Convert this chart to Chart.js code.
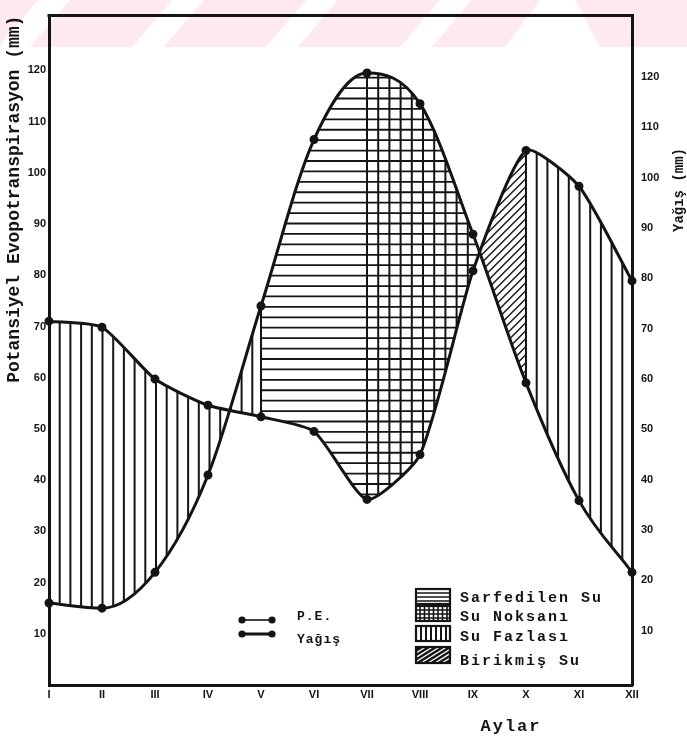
<!DOCTYPE html>
<html>
<head>
<meta charset="utf-8">
<script src="https://cdn.jsdelivr.net/npm/chart.js@4.4.0/dist/chart.umd.min.js"></script>
<style>
html,body{margin:0;padding:0;background:#fff;}
#wrap{width:687px;height:736px;position:relative;}
</style>
</head>
<body>
<div id="wrap"><canvas id="c" width="687" height="736"></canvas></div>
<script>
// ---- data ----
const months = ['I','II','III','IV','V','VI','VII','VIII','IX','X','XI','XII'];
const peValues = [16, 15, 22, 41, 74, 106.5, 119.5, 113.5, 88, 59, 36, 22];          // left axis (mm)
const yagisValues = [71.5, 70.3, 60, 54.8, 52.5, 49.6, 36.1, 45, 81.5, 105.4, 98.3, 79.5]; // right axis (mm)
const leftTicks = [10, 20, 30, 40, 50, 60, 70, 80, 90, 100, 110, 120];
const rightTicks = [10, 20, 30, 40, 50, 60, 70, 80, 90, 100, 110, 120];
const seriesLabels = ['P.E.', 'Yağış'];
const regionLabels = ['Sarfedilen Su', 'Su Noksanı', 'Su Fazlası', 'Birikmiş Su'];
const leftTitle = 'Potansiyel Evopotranspirasyon (mm)';
const rightTitle = 'Yağış (mm)';
const xTitle = 'Aylar';

// ---- style ----
const ink = '#141414';
const mono = '"Liberation Mono", "DejaVu Sans Mono", monospace';
const sans = '"Liberation Sans", Arial, sans-serif';

function drawHatch(ctx, kind, x0, x1, top, bottom) {
  ctx.strokeStyle = ink;
  ctx.lineCap = 'butt';
  if (kind === 'v' || kind === 'g') {
    ctx.lineWidth = 2;
    const step = kind === 'g' ? 11.2 : 10.7;
    for (let px = x0; px <= x1 + 0.5; px += step) {
      ctx.beginPath(); ctx.moveTo(px, top); ctx.lineTo(px, bottom); ctx.stroke();
    }
  }
  if (kind === 'h' || kind === 'g') {
    ctx.lineWidth = 1.8;
    for (let py = bottom - 3; py >= top; py -= 10.42) {
      ctx.beginPath(); ctx.moveTo(x0 - 2, py); ctx.lineTo(x1 + 2, py); ctx.stroke();
    }
  }
  if (kind === 'h') {
    ctx.lineWidth = 2;
    ctx.beginPath(); ctx.moveTo(x0, top); ctx.lineTo(x0, bottom); ctx.stroke();
  }
  if (kind === 'd') {
    ctx.lineWidth = 1.4;
    const H = bottom - top;
    for (let c = x0 - H; c <= x1 + 2; c += 8) {
      ctx.beginPath(); ctx.moveTo(c, bottom); ctx.lineTo(c + H, top); ctx.stroke();
    }
  }
}

const waterBalance = {
  id: 'waterBalance',
  beforeDraw(chart) {
    const {ctx, width, height} = chart;
    ctx.save();
    ctx.fillStyle = '#ffffff';
    ctx.fillRect(0, 0, width, height);
    // faint watermark band of the scanned page
    ctx.fillStyle = '#fde9ee';
    ctx.fillRect(0, 0, width, 47);
    ctx.fillStyle = '#ffffff';
    for (const b of [-2, 132, 266, 400]) {
      ctx.beginPath();
      ctx.moveTo(b, 47); ctx.lineTo(b + 32, 47); ctx.lineTo(b + 72, 0); ctx.lineTo(b + 40, 0);
      ctx.closePath(); ctx.fill();
    }
    ctx.beginPath();
    ctx.moveTo(505, 47); ctx.lineTo(600, 47); ctx.lineTo(575, 0); ctx.lineTo(540, 0);
    ctx.closePath(); ctx.fill();
    ctx.restore();
  },
  beforeDatasetsDraw(chart) {
    const {ctx, chartArea: ca, scales: {x}} = chart;
    const pe = chart.getDatasetMeta(0).dataset;
    const yg = chart.getDatasetMeta(1).dataset;
    const X = i => x.getPixelForValue(i);
    const under = line => {
      ctx.beginPath(); line.path(ctx);
      ctx.lineTo(ca.right + 5, ca.bottom + 5); ctx.lineTo(ca.left - 5, ca.bottom + 5); ctx.closePath();
    };
    const over = line => {
      ctx.beginPath(); line.path(ctx);
      ctx.lineTo(ca.right + 5, ca.top - 5); ctx.lineTo(ca.left - 5, ca.top - 5); ctx.closePath();
    };
    const region = (which, a, b, kind) => {
      ctx.save();
      ctx.beginPath();
      ctx.rect(X(a) - 1, ca.top, X(b) - X(a) + 2, ca.bottom - ca.top);
      ctx.clip();
      if (which === 'surplus') { under(yg); ctx.clip(); over(pe); ctx.clip(); }
      else { under(pe); ctx.clip(); over(yg); ctx.clip(); }
      drawHatch(ctx, kind, X(a), X(b), ca.top, ca.bottom);
      ctx.restore();
    };
    region('surplus', 0, 4, 'v');
    region('deficit', 0, 4, 'v');
    region('deficit', 4, 6, 'h');
    region('deficit', 6, 9, 'g');
    region('surplus', 8, 9, 'd');
    region('surplus', 9, 11, 'v');
  },
  afterDraw(chart) {
    const {ctx, chartArea: ca} = chart;
    ctx.save();
    // top frame line
    ctx.strokeStyle = ink; ctx.lineWidth = 3;
    ctx.beginPath(); ctx.moveTo(ca.left - 1.5, ca.top); ctx.lineTo(ca.right + 1.5, ca.top); ctx.stroke();

    // right axis title (reads bottom to top)
    ctx.fillStyle = ink;
    ctx.font = 'bold 14px ' + mono;
    ctx.textAlign = 'center'; ctx.textBaseline = 'middle';
    ctx.save();
    ctx.translate(679, 190); ctx.rotate(-Math.PI / 2);
    ctx.fillText(rightTitle, 0, 0);
    ctx.restore();

    // x axis title
    ctx.font = 'bold 17px ' + mono;
    try { ctx.letterSpacing = '2px'; } catch (e) {}
    ctx.fillText(xTitle, 511, 727);

    // line legend
    const lineY = [620, 634], textY = [617, 640], widths = [1.6, 3];
    chart.data.datasets.forEach((ds, i) => {
      ctx.strokeStyle = ink; ctx.fillStyle = ink; ctx.lineWidth = widths[i];
      ctx.beginPath(); ctx.moveTo(242, lineY[i]); ctx.lineTo(272, lineY[i]); ctx.stroke();
      for (const cx of [242, 272]) { ctx.beginPath(); ctx.arc(cx, lineY[i], 3.6, 0, Math.PI * 2); ctx.fill(); }
      ctx.font = 'bold 13px ' + mono;
      try { ctx.letterSpacing = '1px'; } catch (e) {}
      ctx.textAlign = 'left';
      ctx.fillText(ds.label, 297, textY[i]);
    });

    // region legend
    const boxY = [589, 606, 626, 647], boxH = [15, 15, 15, 16], kinds = ['h', 'g', 'v', 'd'];
    const tY = [598, 617, 637, 661];
    regionLabels.forEach((lab, i) => {
      const bx = 416, bw = 34, by = boxY[i], bh = boxH[i];
      ctx.save();
      if (kinds[i] === 'd') {
        ctx.fillStyle = ink; ctx.fillRect(bx, by, bw, bh);
        ctx.beginPath(); ctx.rect(bx, by, bw, bh); ctx.clip();
        ctx.strokeStyle = '#fff'; ctx.lineWidth = 1.3;
        for (let c = bx - bh; c <= bx + bw; c += 7) {
          ctx.beginPath(); ctx.moveTo(c, by + bh); ctx.lineTo(c + bh * 1.6, by); ctx.stroke();
        }
      } else {
        ctx.beginPath(); ctx.rect(bx, by, bw, bh); ctx.clip();
        ctx.strokeStyle = ink;
        if (kinds[i] === 'h') {
          ctx.lineWidth = 1.6;
          for (let py = by + 4; py < by + bh; py += 4) { ctx.beginPath(); ctx.moveTo(bx, py); ctx.lineTo(bx + bw, py); ctx.stroke(); }
        } else if (kinds[i] === 'g') {
          ctx.lineWidth = 1.6;
          for (let py = by + 4; py < by + bh; py += 4) { ctx.beginPath(); ctx.moveTo(bx, py); ctx.lineTo(bx + bw, py); ctx.stroke(); }
          for (let px = bx + 4; px < bx + bw; px += 4.5) { ctx.beginPath(); ctx.moveTo(px, by); ctx.lineTo(px, by + bh); ctx.stroke(); }
        } else {
          ctx.lineWidth = 2;
          for (let px = bx + 5; px < bx + bw; px += 5) { ctx.beginPath(); ctx.moveTo(px, by); ctx.lineTo(px, by + bh); ctx.stroke(); }
        }
      }
      ctx.restore();
      ctx.strokeStyle = ink; ctx.lineWidth = 2.2;
      ctx.strokeRect(bx, by, bw, bh);
      ctx.fillStyle = ink;
      ctx.font = 'bold 15px ' + mono;
      try { ctx.letterSpacing = '2px'; } catch (e) {}
      ctx.textAlign = 'left'; ctx.textBaseline = 'middle';
      ctx.fillText(lab, 460, tY[i]);
    });
    ctx.restore();
  }
};

new Chart(document.getElementById('c'), {
  type: 'line',
  data: {
    labels: months,
    datasets: [
      {
        label: seriesLabels[0],
        data: peValues,
        yAxisID: 'y',
        borderColor: ink, borderWidth: 3,
        cubicInterpolationMode: 'monotone',
        pointRadius: 3, pointBackgroundColor: ink, pointBorderColor: ink,
        fill: false, clip: false
      },
      {
        label: seriesLabels[1],
        data: yagisValues,
        yAxisID: 'y1',
        borderColor: ink, borderWidth: 3,
        tension: 0.2,
        pointRadius: 3, pointBackgroundColor: ink, pointBorderColor: ink,
        fill: false, clip: false
      }
    ]
  },
  options: {
    responsive: false,
    devicePixelRatio: 1,
    animation: false,
    layout: { padding: { top: 4, left: 0, right: 0, bottom: 0 } },
    plugins: { legend: { display: false }, tooltip: { enabled: false } },
    scales: {
      x: {
        type: 'category',
        offset: false,
        grid: { display: false, drawTicks: false },
        border: { display: true, color: ink, width: 3 },
        ticks: { color: ink, font: { family: sans, size: 11, weight: 'bold' }, padding: 3, maxRotation: 0, autoSkip: false },
        afterFit: s => { s.height = 51; }
      },
      y: {
        type: 'linear', position: 'left',
        min: 0, max: 130.7,
        grid: { display: false, drawTicks: false },
        border: { display: true, color: ink, width: 3 },
        afterBuildTicks: s => { s.ticks = leftTicks.map(v => ({ value: v })); },
        ticks: { color: ink, font: { family: sans, size: 11, weight: 'bold' }, padding: 3 },
        title: {
          display: true, text: leftTitle, align: 'end', color: ink,
          font: { family: mono, size: 18, weight: 'bold' }, padding: { top: 4, bottom: 0 }
        },
        afterFit: s => { s.width = 49; }
      },
      y1: {
        type: 'linear', position: 'right',
        min: -0.77, max: 132.2,
        grid: { display: false, drawTicks: false },
        border: { display: true, color: ink, width: 3 },
        afterBuildTicks: s => { s.ticks = rightTicks.map(v => ({ value: v })); },
        ticks: { color: ink, font: { family: sans, size: 11, weight: 'bold' }, padding: 9 },
        afterFit: s => { s.width = 55; }
      }
    }
  },
  plugins: [waterBalance]
});
</script>
</body>
</html>
